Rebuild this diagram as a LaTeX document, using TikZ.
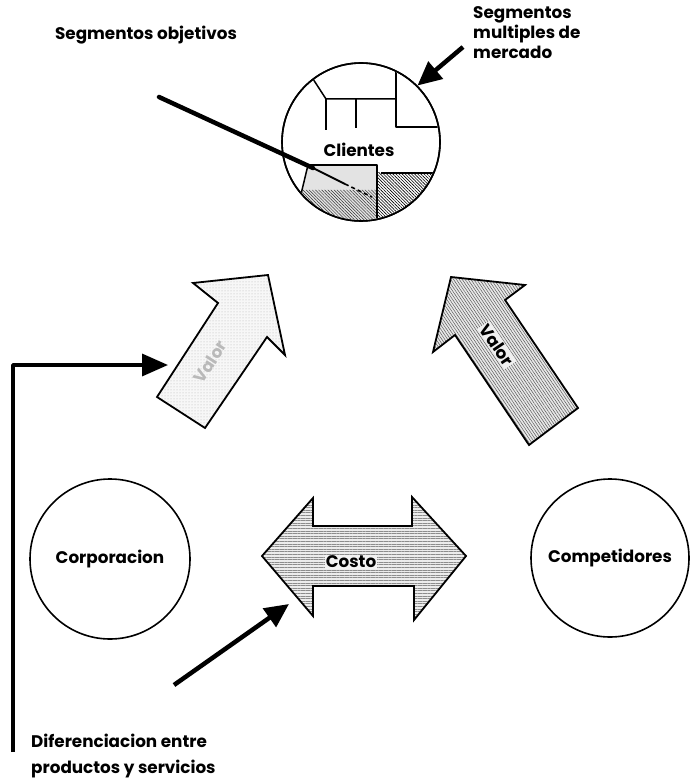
\documentclass[tikz,border=0pt]{standalone}
\usepackage{fontspec}
\newfontfamily\lblfont{Poppins}
\usetikzlibrary{arrows.meta,patterns,patterns.meta}
\begin{document}
\begin{tikzpicture}[x=1pt,y=-1pt,line join=round,
  lbl/.style={font=\lblfont\bfseries\fontsize{16.8}{20}\selectfont, inner sep=0pt},
  ring/.style={circle, draw, line width=1.6pt, inner sep=0pt},
  bigarrow/.style={draw, line width=1.8pt, line join=miter},
  thin/.style={line width=1.5pt},
  pointer/.style={line width=4.5pt, -{Triangle[length=24pt,width=22pt]}}]
\useasboundingbox (0,0) rectangle (691,783);

% ---------- Clientes ----------
\node[ring, minimum size=158pt] (clientes) at (361,142) {};
\begin{scope}
  \clip (361,142) circle (78pt);
  \fill[gray!22] (308,165) -- (377,165) -- (377,240) -- (290,240) -- cycle;
  \path[pattern={Lines[angle=-45,distance=2.2pt,line width=0.5pt]}, pattern color=black!80]
     (302,190) -- (377,190) -- (377,240) -- (290,240) -- cycle;
  \path[pattern={Lines[angle=-45,distance=2.2pt,line width=0.6pt]}, pattern color=black]
     (377,173) -- (450,173) -- (450,240) -- (377,240) -- cycle;
  \draw[thin] (302,62) -- (326,99) -- (396,99);
  \draw[thin] (326,99) -- (326,130);
  \draw[thin] (356,99) -- (356,128);
  \draw[thin] (396,55) -- (396,127) -- (450,127);
  \draw[thin] (308,165) -- (377,165) -- (377,240);
  \draw[thin] (308,165) -- (290,240);
  \draw[thin] (381,173) -- (450,173);
\end{scope}
\node[ring, minimum size=158pt] at (clientes) {};
\node[lbl] (tclientes) at (359,150) {Clientes};

% Segmentos objetivos pointer
\coordinate (objA) at (159,97);
\coordinate (objB) at (313,168);
\coordinate (objC) at (345,184);
\coordinate (objD) at (372,197);
\draw[line width=4.5pt, line cap=round] (objA) -- (objB);
\draw[line width=2pt] (objB) -- (objC);
\draw[line width=1.6pt, dash pattern=on 4pt off 3pt] (objC) -- (objD);
\node[lbl] (tobj) at (146,35) {Segmentos objetivos};

% Segmentos multiples pointer
\coordinate (mulA) at (463,47);
\draw[pointer] (mulA) -- (clientes.north east);
\node[lbl, anchor=west, align=left] (tmul) at (473,33) {Segmentos\\multiples de\\mercado};

% ---------- Left Valor arrow ----------
\coordinate (vl1) at (157,397);
\coordinate (vl2) at (218,303);
\coordinate (vl3) at (193,283);
\coordinate (vl4) at (268,275);
\coordinate (vl5) at (285,355);
\coordinate (vl6) at (267,337);
\coordinate (vl7) at (205,428);
\path[fill=gray!6, postaction={pattern=dots, pattern color=gray!60}]
  (vl1) -- (vl2) -- (vl3) -- (vl4) -- (vl5) -- (vl6) -- (vl7) -- cycle;
\draw[bigarrow] (vl1) -- (vl2) -- (vl3) -- (vl4) -- (vl5) -- (vl6) -- (vl7) -- cycle;
\node[lbl, rotate=57, text=gray!55] (tvl) at (210,362) {Valor};

% ---------- Right Valor arrow ----------
\coordinate (vr1) at (529,445);
\coordinate (vr2) at (455,335);
\coordinate (vr3) at (433,352);
\coordinate (vr4) at (451,277);
\coordinate (vr5) at (525,285);
\coordinate (vr6) at (505,300);
\coordinate (vr7) at (578,408);
\path[fill=gray!18, postaction={pattern={Lines[angle=-56,distance=2.4pt,line width=0.5pt]}, pattern color=black!65}]
  (vr1) -- (vr2) -- (vr3) -- (vr4) -- (vr5) -- (vr6) -- (vr7) -- cycle;
\draw[bigarrow] (vr1) -- (vr2) -- (vr3) -- (vr4) -- (vr5) -- (vr6) -- (vr7) -- cycle;
\node[lbl, rotate=-56, fill=gray!12, inner sep=1pt] (tvr) at (497,345) {Valor};

% ---------- Costo double arrow ----------
\coordinate (c1) at (262,556);
\coordinate (c2) at (313,498);
\coordinate (c3) at (313,526);
\coordinate (c4) at (412,526);
\coordinate (c5) at (412,497);
\coordinate (c6) at (466,556);
\coordinate (c7) at (414,620);
\coordinate (c8) at (414,586);
\coordinate (c9) at (313,586);
\coordinate (c10) at (313,616);
\path[fill=gray!15, postaction={pattern={Lines[angle=0,distance=2.6pt,line width=0.5pt]}, pattern color=black!45}]
  (c1) -- (c2) -- (c3) -- (c4) -- (c5) -- (c6) -- (c7) -- (c8) -- (c9) -- (c10) -- cycle;
\draw[bigarrow] (c1) -- (c2) -- (c3) -- (c4) -- (c5) -- (c6) -- (c7) -- (c8) -- (c9) -- (c10) -- cycle;
\node[lbl, fill=gray!10, inner sep=1pt] (tcosto) at (351,562) {Costo};

% ---------- Corporacion / Competidores ----------
\node[ring, minimum size=160pt, lbl] (corp) at (110,559) {Corporacion};
\node[ring, minimum size=158pt, lbl] (comp) at (610,558) {Competidores};

% Diferenciacion pointer
\coordinate (difA) at (174,685);
\coordinate (difB) at (289,604);
\draw[pointer] (difA) -- (difB);

% Left feedback connector
\coordinate (fbA) at (13,752);
\coordinate (fbB) at (168,365);
\draw[line width=3.5pt, -{Triangle[length=26pt,width=22pt]}] (fbA) |- (fbB);

\node[lbl, anchor=west, align=left, font=\lblfont\bfseries\fontsize{16.8}{26}\selectfont] (tdif) at (31,756) {Diferenciacion entre\\productos y servicios};
\end{tikzpicture}
\end{document}
